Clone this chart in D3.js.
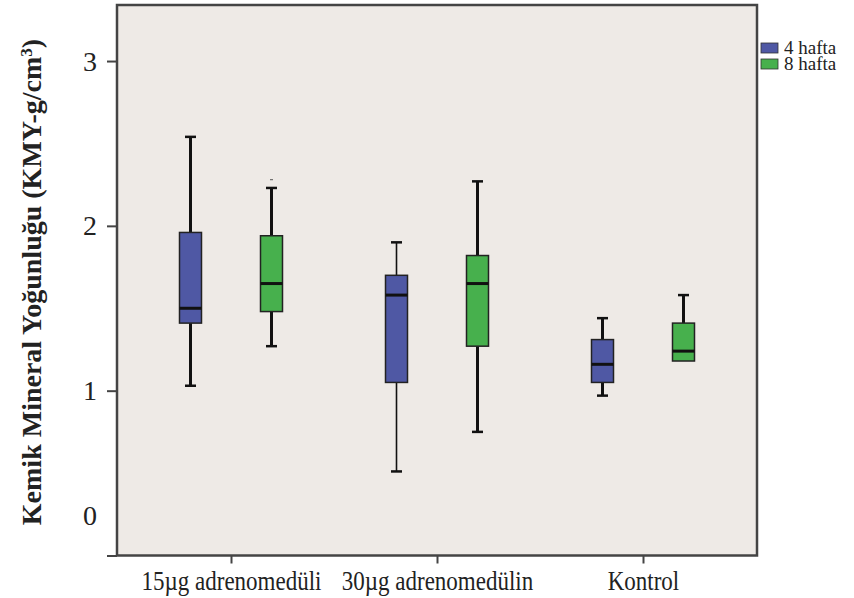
<!DOCTYPE html>
<html>
<head>
<meta charset="utf-8">
<script src="https://cdn.jsdelivr.net/npm/d3@7"></script>
<style>
  body { margin: 0; background: #fff; }
  svg { display: block; font-family: "Liberation Serif", "Times New Roman", serif; }
</style>
</head>
<body>
<svg width="854" height="598"></svg>
<script>
// categories + series
const groups = ["15µg adrenomedüli", "30µg adrenomedülin", "Kontrol"];
const series = ["4 hafta", "8 hafta"];
const colors = ["#4f58a4", "#47b04d"];

// five number summaries
const min4 = [1.03, 0.51, 0.97];
const q1_4 = [1.41, 1.05, 1.05];
const med4 = [1.50, 1.58, 1.16];
const q3_4 = [1.96, 1.70, 1.31];
const max4 = [2.54, 1.90, 1.44];

const min8 = [1.27, 0.75, 1.18];
const q1_8 = [1.48, 1.27, 1.18];
const med8 = [1.65, 1.65, 1.24];
const q3_8 = [1.94, 1.82, 1.41];
const max8 = [2.23, 2.27, 1.58];
const out8 = [2.28, null, null];

const yTicks = [0, 1, 2, 3];

const plot = {left: 117, right: 757, top: 5, bottom: 555.5};

const svg = d3.select('svg');

const yScale = d3.scaleLinear()
  .domain([0, 3.34])
  .range([plot.bottom, plot.top]);

const xScale = d3.scalePoint()
  .domain(groups)
  .range([231, 643]);

const sub = d3.scalePoint()
  .domain(series)
  .range([-40.5, 40.5]);

// background
svg.append('rect')
  .attr('x', plot.left).attr('y', plot.top)
  .attr('width', plot.right - plot.left)
  .attr('height', plot.bottom - plot.top)
  .attr('fill', '#eeeae6');

// build box rows
const rows = [];
groups.forEach((g, i) => {
  rows.push({g, s: series[0], c: colors[0], min: min4[i], q1: q1_4[i], med: med4[i], q3: q3_4[i], max: max4[i], out: null, thin: i === 1});
  rows.push({g, s: series[1], c: colors[1], min: min8[i], q1: q1_8[i], med: med8[i], q3: q3_8[i], max: max8[i], out: out8[i], thin: false});
});

const boxW = 22, capW = 11;
const cx = d => xScale(d.g) + sub(d.s);

const box = svg.append('g').selectAll('g').data(rows).enter().append('g');

// whiskers
box.append('line')
  .attr('x1', cx).attr('x2', cx)
  .attr('y1', d => yScale(d.q3)).attr('y2', d => yScale(d.max))
  .attr('stroke', '#111').attr('stroke-width', d => d.thin ? 1.6 : 3);
box.append('line')
  .attr('x1', cx).attr('x2', cx)
  .attr('y1', d => yScale(d.q1)).attr('y2', d => yScale(d.min))
  .attr('stroke', '#111').attr('stroke-width', d => d.thin ? 1.6 : 3);
box.filter(d => d.max > d.q3).append('line')
  .attr('x1', d => cx(d) - capW / 2).attr('x2', d => cx(d) + capW / 2)
  .attr('y1', d => yScale(d.max)).attr('y2', d => yScale(d.max))
  .attr('stroke', '#111').attr('stroke-width', 2.5);
box.filter(d => d.min < d.q1).append('line')
  .attr('x1', d => cx(d) - capW / 2).attr('x2', d => cx(d) + capW / 2)
  .attr('y1', d => yScale(d.min)).attr('y2', d => yScale(d.min))
  .attr('stroke', '#111').attr('stroke-width', 2.5);

// boxes
box.append('rect')
  .attr('x', d => cx(d) - boxW / 2)
  .attr('y', d => yScale(d.q3))
  .attr('width', boxW)
  .attr('height', d => yScale(d.q1) - yScale(d.q3))
  .attr('fill', d => d.c)
  .attr('stroke', '#222').attr('stroke-width', 1.5);

// medians
box.append('line')
  .attr('x1', d => cx(d) - boxW / 2).attr('x2', d => cx(d) + boxW / 2)
  .attr('y1', d => yScale(d.med)).attr('y2', d => yScale(d.med))
  .attr('stroke', '#111').attr('stroke-width', 3);

// tiny outlier mark
box.filter(d => d.out != null).append('line')
  .attr('x1', d => cx(d) - 1.5).attr('x2', d => cx(d) + 1.5)
  .attr('y1', d => yScale(d.out)).attr('y2', d => yScale(d.out))
  .attr('stroke', '#555').attr('stroke-width', 1);

// frame
svg.append('rect')
  .attr('x', plot.left).attr('y', plot.top)
  .attr('width', plot.right - plot.left)
  .attr('height', plot.bottom - plot.top)
  .attr('fill', 'none')
  .attr('stroke', '#444').attr('stroke-width', 2.5);

// y axis
const yAxis = svg.append('g')
  .attr('transform', `translate(${plot.left},0)`)
  .call(d3.axisLeft(yScale).tickValues(yTicks).tickSize(10).tickPadding(10).tickFormat(d3.format('d')));
yAxis.select('.domain').remove();
yAxis.selectAll('line').attr('stroke', '#444').attr('stroke-width', 2);
yAxis.selectAll('text')
  .attr('fill', '#222')
  .style('font-size', '28px')
  .style('font-family', '"Liberation Serif", serif');
// the 0 label sits well above the baseline in the original
yAxis.selectAll('.tick').filter(d => d === 0).select('text').attr('y', -40);

// x axis
const xAxis = svg.append('g')
  .attr('transform', `translate(0,${plot.bottom})`)
  .call(d3.axisBottom(xScale).tickSize(8).tickPadding(8));
xAxis.select('.domain').remove();
xAxis.selectAll('line').attr('stroke', '#444').attr('stroke-width', 2);
// labels are a bit taller than wide in the original, stretch a little
xAxis.selectAll('text')
  .attr('fill', '#222')
  .attr('y', 12.5)
  .attr('transform', 'scale(1,1.2)')
  .style('font-size', '23px')
  .style('font-family', '"Liberation Serif", serif');

// y title
svg.append('text')
  .attr('transform', 'translate(41,282) rotate(-90)')
  .attr('text-anchor', 'middle')
  .style('font-size', '28px')
  .style('font-weight', 'bold')
  .attr('fill', '#222')
  .text('Kemik Mineral Yoğunluğu (KMY-g/cm')
  .append('tspan')
  .attr('baseline-shift', 'super')
  .style('font-size', '17px')
  .text('3')
  .select(function() { return this.parentNode; })
  .append('tspan')
  .text(')');

// legend
const legend = svg.append('g').attr('transform', 'translate(761,43)');
const li = legend.selectAll('g').data(series).enter().append('g')
  .attr('transform', (d, i) => `translate(0,${i * 16})`);
li.append('rect')
  .attr('width', 17).attr('height', 10)
  .attr('fill', (d, i) => colors[i])
  .attr('stroke', '#333').attr('stroke-width', 0.8);
li.append('text')
  .attr('x', 23).attr('y', 11)
  .style('font-size', '19px')
  .attr('fill', '#222')
  .text(d => d);
</script>
</body>
</html>
